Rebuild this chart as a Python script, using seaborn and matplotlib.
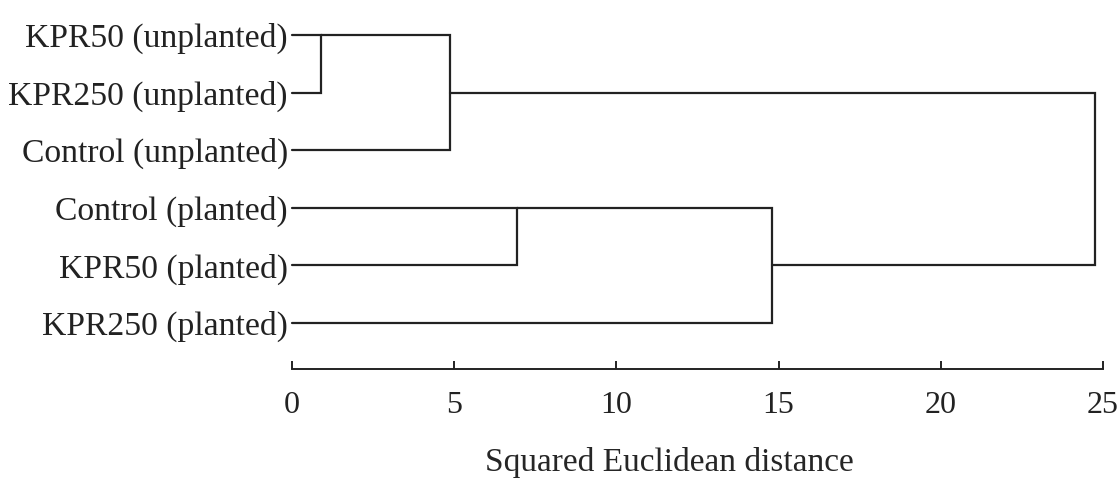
import numpy as np
import pandas as pd
import matplotlib
matplotlib.use('Agg')
import matplotlib.pyplot as plt
import seaborn as sns

# leaf labels, top to bottom
labels = ["KPR50 (unplanted)", "KPR250 (unplanted)", "Control (unplanted)",
          "Control (planted)", "KPR50 (planted)", "KPR250 (planted)"]

# merges: (child a, child b, squared euclidean distance); new nodes numbered from 6
merge_a = [0, 6, 3, 8, 7]
merge_b = [1, 2, 4, 5, 9]
merge_dist = [0.9, 4.88, 6.93, 14.8, 24.75]

xticks = [0, 5, 10, 15, 20, 25]

sns.set_style('white')
plt.rcParams['font.family'] = ['Liberation Serif', 'DejaVu Serif']
plt.rcParams['text.color'] = '#222222'
plt.rcParams['xtick.color'] = '#222222'
plt.rcParams['ytick.color'] = '#222222'

# node geometry: leaves sit at their order, clusters at the middle leaf
n = len(labels)
node_leaves = {i: [i] for i in range(n)}
node_h = {i: 0.0 for i in range(n)}
node_y = {i: float(i) for i in range(n)}

rows = []
for k, (a, b, d) in enumerate(zip(merge_a, merge_b, merge_dist)):
    nid = n + k
    xs = (node_h[a], d, d, node_h[b])
    ys = (node_y[a], node_y[a], node_y[b], node_y[b])
    for step, (x, y) in enumerate(zip(xs, ys)):
        rows.append({'seg': k, 'step': step, 'x': x, 'y': y})
    leaves = node_leaves[a] + node_leaves[b]
    node_leaves[nid] = leaves
    node_h[nid] = d
    node_y[nid] = float(int(np.floor(np.mean(leaves))))

seg_df = pd.DataFrame(rows)

fig = plt.figure(figsize=(11.18, 4.78), dpi=100)
ax = fig.add_axes([292 / 1118, 1 - 369 / 478, (1103 - 292) / 1118, (369 - 35) / 478])

sns.lineplot(data=seg_df, x='x', y='y', units='seg', estimator=None, sort=False,
             color='#222222', linewidth=1.6, ax=ax)
for line in ax.lines:
    line.set_clip_on(False)
    line.set_solid_joinstyle('miter')

ax.set_xlim(0, 25)
ax.set_ylim(5 + 46 / 57.6, 0)
ax.set_xticks(xticks)
ax.set_xticklabels([str(t) for t in xticks], fontsize=23)
ax.set_yticks(range(n))
ax.set_yticklabels(labels, fontsize=24.2)
ax.tick_params(axis='y', left=False, length=0, pad=3)
ax.tick_params(axis='x', bottom=True, direction='in', length=6, width=1.4, pad=16)
ax.set_xlabel('Squared Euclidean distance', fontsize=24)
ax.xaxis.set_label_coords((669 - 292) / 811, -0.233)
ax.set_ylabel('')

for s in ['left', 'top', 'right']:
    ax.spines[s].set_visible(False)
ax.spines['bottom'].set_linewidth(1.4)
ax.spines['bottom'].set_color('#222222')
if ax.get_legend():
    ax.get_legend().remove()

fig.savefig('out.png', dpi=100)
